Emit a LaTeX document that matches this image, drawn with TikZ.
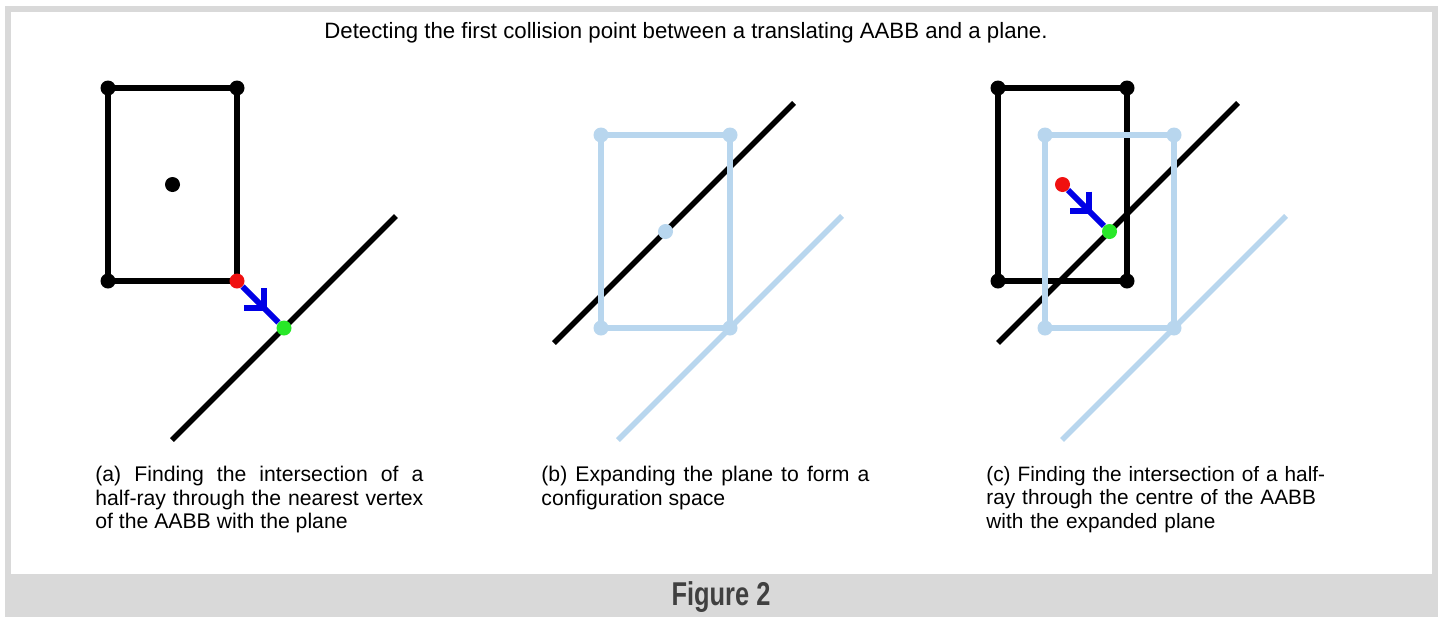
\documentclass[tikz,border=0pt]{standalone}
\usepackage{fontspec}
\setmainfont{Liberation Sans}
\usepackage{graphicx}
\usetikzlibrary{arrows.meta,decorations.markings}

\definecolor{framegrey}{RGB}{217,217,217}
\definecolor{cspace}{RGB}{184,214,238}
\definecolor{raybl}{RGB}{0,0,230}
\definecolor{hitgreen}{RGB}{40,232,40}
\definecolor{startred}{RGB}{240,16,16}
\definecolor{figtext}{RGB}{64,64,64}

\begin{document}
\begin{tikzpicture}[x=0.5pt,y=-0.5pt,
  edge/.style={line width=2.7pt},
  vdot/.style={circle,fill,inner sep=0pt,minimum size=7.5pt},
  ray/.style={raybl,line width=3pt,
    decoration={markings,mark=at position 0.68 with
      {\arrow{Straight Barb[length=7pt,width=14pt,line width=3pt]}}},
    postaction={decorate}},
  capt/.style={anchor=north west,inner sep=0pt,text width=164pt,
    align=justify,font=\fontsize{10.6}{11.65}\selectfont}]

\useasboundingbox (0,0) rectangle (1440,617);

% frame and label bar
\fill[framegrey] (5,6) rectangle (1438,617);
\fill[white] (11,12) rectangle (1432,574);

\node[anchor=base,font=\fontsize{11.1}{13}\selectfont] (title) at (686,38)
  {Detecting the first collision point between a translating AABB and a plane.};

% (a) nearest vertex
\begin{scope}
\draw[edge] (108,88) rectangle (237,281);
\draw[edge] (172,440) -- (396,216);
\foreach \n/\x/\y in {tl/108/88, tr/237/88, bl/108/281, c/172.5/184.5}
  \node[vdot] (a-\n) at (\x,\y) {};
\node[vdot,startred] (a-start) at (237,281) {};
\node[vdot,hitgreen] (a-hit) at (284,328) {};
\draw[ray] (a-start) -- (a-hit);
\end{scope}

% (b) configuration space
\begin{scope}[shift={(446,0)}]
\draw[edge] (108,343) -- (348,103);
\draw[edge,cspace] (155,135) rectangle (284,328);
\draw[edge,cspace] (172,440) -- (396,216);
\foreach \n/\x/\y in {tl/155/135, tr/284/135, bl/155/328, br/284/328, c/219.5/231.5}
  \node[vdot,cspace] (b-\n) at (\x,\y) {};
\end{scope}

% (c) centre ray
\begin{scope}[shift={(890,0)}]
\draw[edge] (108,88) rectangle (237,281);
\foreach \n/\x/\y in {tl/108/88, tr/237/88, bl/108/281, br/237/281}
  \node[vdot] (c-\n) at (\x,\y) {};
\draw[edge] (108,343) -- (348,103);
\draw[edge,cspace] (155,135) rectangle (284,328);
\draw[edge,cspace] (172,440) -- (396,216);
\foreach \n/\x/\y in {tl/155/135, tr/284/135, bl/155/328, br/284/328}
  \node[vdot,cspace] (cs-\n) at (\x,\y) {};
\node[vdot,startred] (c-start) at (172.5,184.5) {};
\node[vdot,hitgreen] (c-hit) at (219.5,231.5) {};
\draw[ray] (c-start) -- (c-hit);
\end{scope}

% captions
\node[capt] (capa) at (95,466)
  {(a) Finding the intersection of a\linebreak half-ray through the nearest vertex\linebreak of the AABB with the plane};
\node[capt] (capb) at (541,466)
  {(b) Expanding the plane to form a\linebreak configuration space};
\node[capt,text width=180pt,align=left,font=\fontsize{10.4}{11.65}\selectfont] (capc) at (986,466)
  {(c) Finding the intersection of a half-\\ray through the centre of the AABB\\with the expanded plane};

\node[anchor=base,text=figtext,font=\bfseries\fontsize{16.5}{18}\selectfont] (figlabel) at (721,605)
  {\scalebox{0.77}[1]{Figure 2}};

\end{tikzpicture}
\end{document}
